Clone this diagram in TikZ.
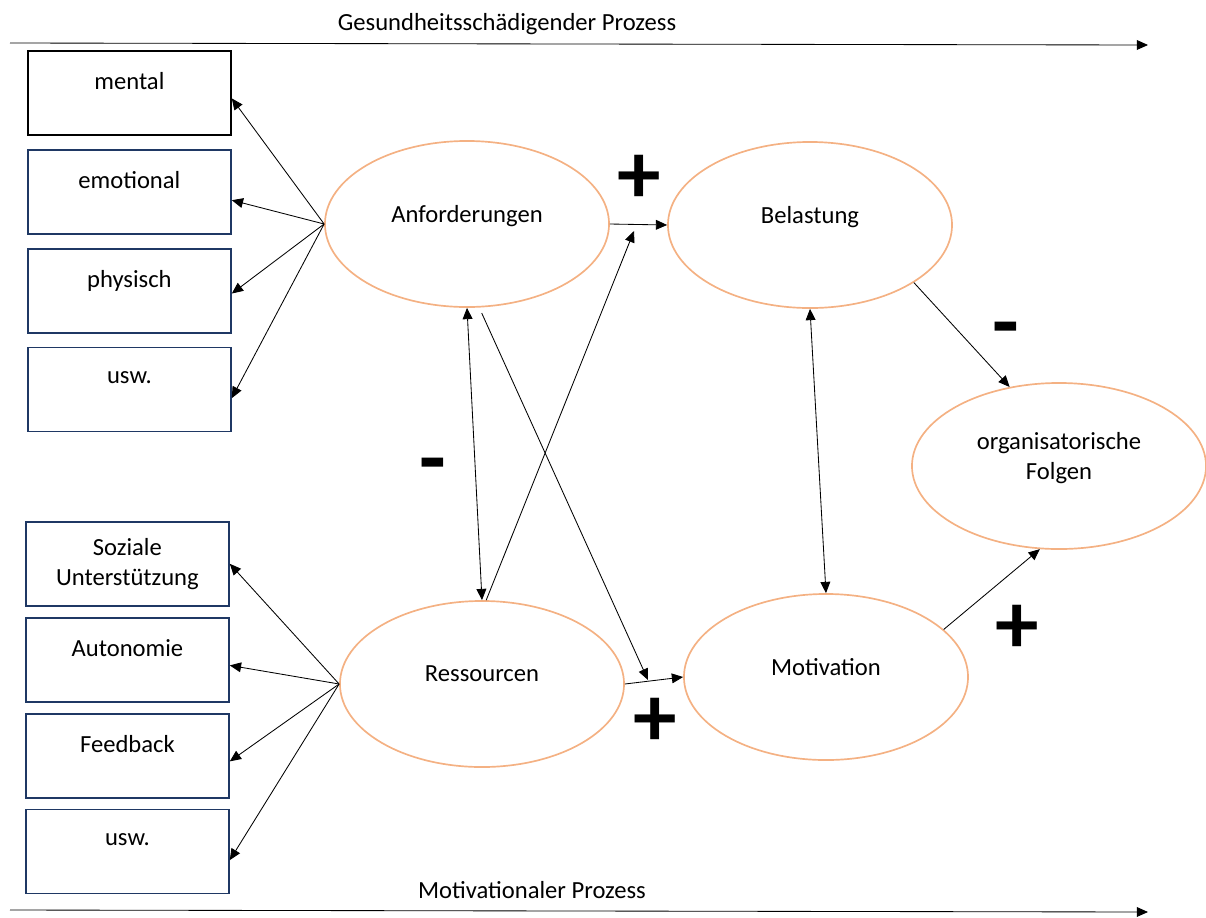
\documentclass[tikz,border=0pt]{standalone}
\usepackage{fontspec}
\setmainfont{Carlito}
\usepackage{xcolor}
\usetikzlibrary{shapes.geometric, arrows.meta, positioning}

\definecolor{ovalorange}{HTML}{F4B183}
\definecolor{boxnavy}{HTML}{1F3864}

\begin{document}
\begin{tikzpicture}[
    x=0.025cm, y=-0.025cm,
    >={Triangle[length=8pt, width=7pt]},
    font=\fontsize{17.5}{21}\selectfont,
    factor/.style={ellipse, draw=ovalorange, line width=1.2pt, minimum width=7.1cm, minimum height=4.15cm, align=center, text depth=0.5cm},
    itembox/.style={rectangle, draw=boxnavy, line width=1.1pt, minimum width=5.08cm, minimum height=2.1cm, align=center, text depth=0.6cm},
    twobox/.style={itembox, text depth=0.1cm},
    arrow/.style={->, line width=0.6pt},
    darrow/.style={<->, line width=0.6pt},
    sign/.style={font=\fontsize{62}{62}\selectfont\bfseries, inner sep=0pt},
]
\useasboundingbox (0,0) rectangle (1206,917);

% === PROCESS LINES ===
\coordinate (topL) at (10,43);
\coordinate (topR) at (1148,45);
\coordinate (botL) at (10,910);
\coordinate (botR) at (1148,912);
\draw[arrow] (topL) -- (topR);
\draw[arrow] (botL) -- (botR);
\node (gesund) at (507,24) {Gesundheitsschädigender Prozess};
\node (motproc) at (532,890) {Motivationaler Prozess};

% === DEMAND TYPES ===
\node[itembox, draw=black, anchor=north west] (mental) at (27,50) {mental};
\node[itembox, below=0.335cm of mental] (emotional) {emotional};
\node[itembox, below=0.335cm of emotional] (physisch) {physisch};
\node[itembox, below=0.335cm of physisch] (uswA) {usw.};

% === RESOURCE TYPES ===
\node[twobox, anchor=north west] (sozial) at (25,521) {Soziale\\Unterstützung};
\node[itembox, below=0.26cm of sozial] (autonomie) {Autonomie};
\node[itembox, below=0.26cm of autonomie] (feedback) {Feedback};
\node[itembox, below=0.26cm of feedback] (uswR) {usw.};

% === FACTORS ===
\node[factor] (anf) at (467,224) {Anforderungen};
\node[factor] (bel) at (810,225) {Belastung};
\node[factor] (res) at (482,684) {Ressourcen};
\node[factor] (mot) at (826,677) {Motivation};
\node[factor, minimum width=7.35cm] (org) at (1059,466) {organisatorische\\Folgen};

\coordinate (belin) at (634,231);
\coordinate (motin) at (648,680);

% === SIGNS ===
\node[sign] (plusAB) at (639,179) {+};
\node[sign] (plusRM) at (655,722) {+};
\node[sign] (plusMO) at (1017,629) {+};
\node[sign] (minusAR) at (433,473) {-};
\node[sign] (minusBO) at (1006,337) {-};

% === CONNECTIONS ===
% Anforderungen to demand types
\draw[arrow] (anf.west) -- ([yshift=-4pt]mental.east);
\draw[arrow] (anf.west) -- ([yshift=-6pt]emotional.east);
\draw[arrow] (anf.west) -- ([yshift=-2pt]physisch.east);
\draw[arrow] (anf.west) -- ([yshift=-6pt]uswA.east);

% Ressourcen to resource types
\draw[arrow] (res.west) -- (sozial.east);
\draw[arrow] (res.west) -- ([yshift=-4pt]autonomie.east);
\draw[arrow] (res.west) -- ([yshift=-4pt]feedback.east);
\draw[arrow] (res.west) -- ([yshift=-6pt]uswR.east);

% between the factors
\draw[arrow] (anf.east) -- (bel.west);
\draw[arrow] (res.east) -- (mot.west);
\draw[darrow] (anf.south) -- (res.north);
\draw[arrow] ([xshift=3pt]res.north) -- (belin);
\draw[arrow] ([yshift=-4pt]anf.-80) -- (motin);
\draw[darrow] (bel.south) -- (mot.north);
\draw[arrow] (bel.-29) -- (org.122);
\draw[arrow] (mot.22) -- (org.257);

\end{tikzpicture}
\end{document}
